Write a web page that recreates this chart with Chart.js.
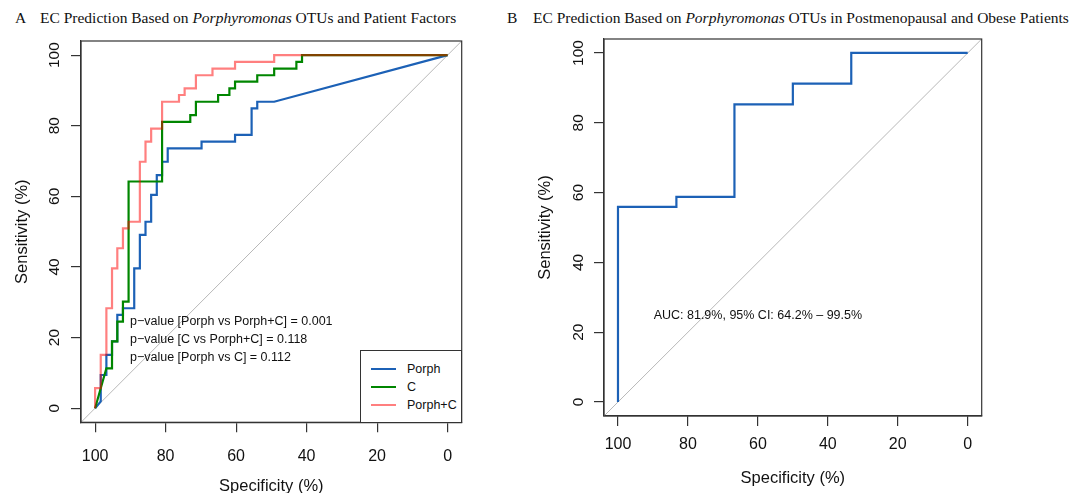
<!DOCTYPE html>
<html>
<head>
<meta charset="utf-8">
<script src="https://cdn.jsdelivr.net/npm/chart.js@4.4.0/dist/chart.umd.min.js"></script>
<style>
  body { margin: 0; width: 1082px; height: 493px; background: #fff; position: relative; overflow: hidden;
         font-family: "Liberation Sans", Arial, sans-serif; color: #111; }
  .ttl { position: absolute; top: 10px; font-family: "Liberation Serif", "Times New Roman", serif;
         font-size: 15.5px; line-height: 1; white-space: nowrap; color: #111; }
  .panel { position: absolute; top: 0; height: 493px; }
  .legend { position: absolute; border: 1px solid #333; box-sizing: border-box; background: #fff; }
  .legend .row { position: absolute; left: 0; height: 18px; line-height: 18px; font-size: 12.5px; white-space: nowrap; }
  .legend .sw { position: absolute; left: 10px; top: 8px; width: 25px; height: 2px; }
  .legend .lb { position: absolute; left: 46px; top: 0; }
</style>
</head>
<body>

<div class="ttl" style="left:15px">A</div>
<div class="ttl" style="left:40px">EC Prediction Based on <i>Porphyromonas</i> OTUs and Patient Factors</div>
<div class="ttl" style="left:507px">B</div>
<div class="ttl" style="left:533px">EC Prediction Based on <i>Porphyromonas</i> OTUs in Postmenopausal and Obese Patients</div>

<div class="panel" style="left:0; width:540px"><canvas id="rocA"></canvas></div>
<div class="panel" style="left:520px; width:562px"><canvas id="rocB"></canvas></div>
<div class="legend" id="legendA" style="left:360px; top:350px; width:102px; height:73px"></div>

<script>
// Shared axis setup (percent)
const tickVals = [0, 20, 40, 60, 80, 100];
const axisRange = [-4, 104];

// Panel A - ROC vertices (specificity %, sensitivity %)
const porphSpec = [100, 98.4, 98.4, 96.8, 96.8, 95.2, 95.2, 93.7, 93.7, 92.1, 92.1, 88.9, 88.9, 87.3, 87.3,
  85.7, 85.7, 84.1, 84.1, 82.5, 82.5, 81.0, 81.0, 79.4, 79.4, 69.8, 69.8, 60.3, 60.3, 55.6, 55.6, 54.0, 54.0, 49.2, 0];
const porphSens = [0, 1.9, 9.4, 9.4, 15.1, 15.1, 18.9, 18.9, 26.4, 26.4, 28.3, 28.3, 39.6, 39.6, 49.1,
  49.1, 52.8, 52.8, 60.4, 60.4, 66.0, 66.0, 69.8, 69.8, 73.6, 73.6, 75.5, 75.5, 77.4, 77.4, 84.9, 84.9, 86.8, 86.8, 100];

const cSpec = [100, 96.8, 95.2, 95.2, 93.7, 93.7, 92.1, 92.1, 90.5, 90.5, 81.0, 81.0, 73.0, 73.0, 71.4, 71.4,
  65.1, 65.1, 61.9, 61.9, 60.3, 60.3, 54.0, 54.0, 49.2, 49.2, 42.9, 42.9, 41.3, 41.3, 0];
const cSens = [0, 11.3, 11.3, 18.9, 18.9, 24.5, 24.5, 30.2, 30.2, 64.2, 64.2, 81.1, 81.1, 83.0, 83.0, 86.8,
  86.8, 88.7, 88.7, 90.6, 90.6, 92.5, 92.5, 94.3, 94.3, 96.2, 96.2, 98.1, 98.1, 100, 100];

const comboSpec = [100, 100, 98.4, 98.4, 96.8, 96.8, 95.2, 95.2, 93.7, 93.7, 92.1, 92.1, 90.5, 90.5, 87.3, 87.3,
  85.7, 85.7, 84.1, 84.1, 81.0, 81.0, 76.2, 76.2, 74.6, 74.6, 71.4, 71.4, 66.7, 66.7, 60.3, 60.3, 49.2, 49.2, 0];
const comboSens = [0, 5.7, 5.7, 15.1, 15.1, 28.3, 28.3, 39.6, 39.6, 45.3, 45.3, 50.9, 50.9, 52.8, 52.8, 69.8,
  69.8, 75.5, 75.5, 79.2, 79.2, 86.8, 86.8, 88.7, 88.7, 90.6, 90.6, 94.3, 94.3, 96.2, 96.2, 98.1, 98.1, 100, 100];

// Panel B - postmenopausal and obese subset
const obeseSpec = [100, 100, 83.3, 83.3, 66.7, 66.7, 50.0, 50.0, 33.3, 33.3, 0];
const obeseSens = [0, 55.9, 55.9, 58.8, 58.8, 85.3, 85.3, 91.2, 91.2, 100, 100];

const seriesNames = ['Porph', 'C', 'Porph+C'];
const seriesColors = ['#1c61b6', '#008600', 'rgba(255,0,0,0.5)'];

const pValueLines = [
  'p\u2212value [Porph vs Porph+C] = 0.001',
  'p\u2212value [C vs Porph+C] = 0.118',
  'p\u2212value [Porph vs C] = 0.112'
];
const aucLabel = 'AUC: 81.9%, 95% CI: 64.2% \u2013 99.5%';

const SANS = '"Liberation Sans", Arial, sans-serif';
const INK = '#111';
const FRAME = '#333';

function toPoints(spec, sens) {
  return spec.map((s, i) => ({ x: s, y: sens[i] }));
}

// full-frame chance line, like abline(1, -1)
function diagonal() {
  return {
    data: [{ x: axisRange[1], y: axisRange[0] }, { x: axisRange[0], y: axisRange[1] }],
    borderColor: '#b8b8b8', borderWidth: 1, pointRadius: 0, order: 10
  };
}

function curve(spec, sens, color, order) {
  return {
    data: toPoints(spec, sens),
    borderColor: color, borderWidth: 2.2, pointRadius: 0, order: order,
    tension: 0, fill: false, borderJoinStyle: 'miter'
  };
}

// box round the plot region
const boxPlugin = {
  id: 'box',
  afterDatasetsDraw(chart) {
    const { ctx, chartArea: a } = chart;
    ctx.save();
    ctx.strokeStyle = FRAME;
    ctx.lineWidth = 1.2;
    ctx.strokeRect(a.left, a.top, a.right - a.left, a.bottom - a.top);
    ctx.restore();
  }
};

// text placed in data coordinates
const notesPlugin = {
  id: 'notes',
  afterDatasetsDraw(chart, args, opts) {
    if (!opts.items) return;
    const { ctx, scales } = chart;
    ctx.save();
    ctx.font = '12.5px ' + SANS;
    ctx.fillStyle = INK;
    ctx.textAlign = opts.align || 'left';
    ctx.textBaseline = 'middle';
    opts.items.forEach(it => {
      ctx.fillText(it.text, scales.x.getPixelForValue(it.x), scales.y.getPixelForValue(it.y));
    });
    ctx.restore();
  }
};

function makeChart(id, datasets, cfg) {
  const canvas = document.getElementById(id);
  return new Chart(canvas, {
    type: 'line',
    data: { datasets: datasets },
    options: {
      responsive: true,
      maintainAspectRatio: false,
      animation: false,
      events: [],
      layout: { padding: { left: 0, top: cfg.top, right: cfg.right, bottom: 0 } },
      plugins: {
        legend: { display: false },
        tooltip: { enabled: false },
        notes: cfg.notes
      },
      scales: {
        x: {
          type: 'linear', reverse: true, min: axisRange[0], max: axisRange[1],
          afterBuildTicks: s => { s.ticks = tickVals.map(v => ({ value: v })); },
          afterFit: s => { s.height = cfg.xAxisH; },
          grid: { drawOnChartArea: false, drawTicks: true, tickLength: 10, color: FRAME, lineWidth: 1.2 },
          border: { display: true, color: FRAME, width: 1.2 },
          ticks: { font: { family: SANS, size: 16 }, color: INK, padding: cfg.xTickPad, maxRotation: 0, autoSkip: false },
          title: { display: true, text: 'Specificity (%)', color: INK,
                   font: { family: SANS, size: 16.5, lineHeight: 1 }, padding: { top: 0, bottom: cfg.xTitlePad } }
        },
        y: {
          type: 'linear', min: axisRange[0], max: axisRange[1],
          afterBuildTicks: s => { s.ticks = tickVals.map(v => ({ value: v })); },
          afterFit: s => { s.width = cfg.yAxisW; },
          grid: { drawOnChartArea: false, drawTicks: true, tickLength: 10, color: FRAME, lineWidth: 1.2 },
          border: { display: true, color: FRAME, width: 1.2 },
          ticks: { font: { family: SANS, size: 15.5 }, color: INK, padding: cfg.yTickPad,
                   minRotation: 90, maxRotation: 90, crossAlign: 'center', autoSkip: false },
          title: { display: true, text: 'Sensitivity (%)', color: INK,
                   font: { family: SANS, size: 16.5, lineHeight: 1 }, padding: { top: cfg.yTitlePad, bottom: 0 } }
        }
      }
    },
    plugins: [boxPlugin, notesPlugin]
  });
}

// Panel A
makeChart('rocA', [
  diagonal(),
  curve(porphSpec, porphSens, seriesColors[0], 3),
  curve(cSpec, cSens, seriesColors[1], 2),
  curve(comboSpec, comboSens, seriesColors[2], 1)
], {
  top: 41, right: 78.3, xAxisH: 70.7, yAxisW: 81,
  xTickPad: 15, xTitlePad: -2, yTickPad: 3, yTitlePad: 14.5,
  notes: { align: 'left', items: pValueLines.map((t, i) => ({ x: 90.1, y: 24.6 - i * 5.1, text: t })) }
});

// Panel B
makeChart('rocB', [
  diagonal(),
  curve(obeseSpec, obeseSens, seriesColors[0], 1)
], {
  top: 39, right: 100.3, xAxisH: 77, yAxisW: 84,
  xTickPad: 8.7, xTitlePad: 6.2, yTickPad: 2.4, yTitlePad: 16.8,
  notes: { align: 'center', items: [{ x: 60, y: 24.7, text: aucLabel }] }
});

// Legend for panel A
const legendA = document.getElementById('legendA');
seriesNames.forEach((name, i) => {
  const row = document.createElement('div');
  row.className = 'row';
  row.style.top = (9 + i * 18) + 'px';
  row.style.width = '100%';
  row.innerHTML = '<span class="sw" style="background:' + seriesColors[i] + '"></span><span class="lb">' + name + '</span>';
  legendA.appendChild(row);
});
</script>
</body>
</html>
